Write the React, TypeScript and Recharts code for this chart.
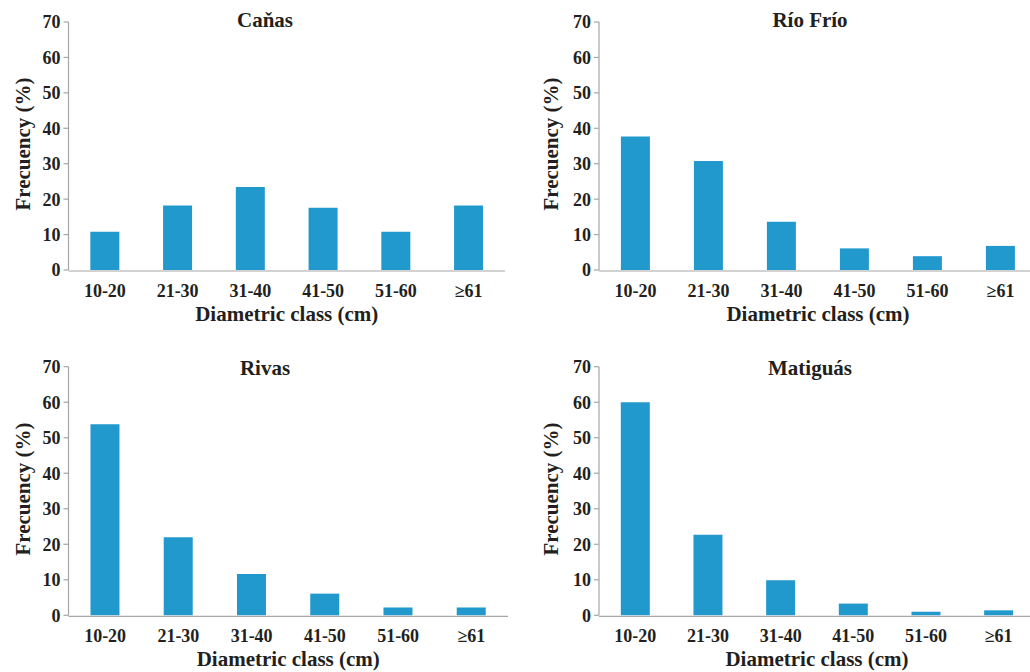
import React from "react";
import { BarChart, Bar, XAxis, YAxis, Label } from "recharts";

const classes = ["10-20", "21-30", "31-40", "41-50", "51-60", "≥61"];
const canas = [10.8, 18.2, 23.4, 17.6, 10.8, 18.2];
const rioFrio = [37.7, 30.8, 13.6, 6.1, 3.9, 6.8];
const rivas = [53.8, 22.0, 11.6, 6.1, 2.2, 2.2];
const matiguas = [60.0, 22.7, 9.9, 3.3, 1.0, 1.4];
const yTicks = [0, 10, 20, 30, 40, 50, 60, 70];
const edgeTicks = [0, 1, 2, 3, 4, 5, 6];

const FONT = "'Liberation Serif', 'Times New Roman', serif";
const INK = "#231F20";
const AXIS = "#A6A6A6";
const BLUE = "#2199CD";

type PanelProps = {
  title: string;
  values: number[];
  left: number;
  top: number;
  width: number;
  height: number;
  yAxisWidth: number;
  marginTop: number;
  marginRight: number;
  marginBottom: number;
  yTitleX: number;
  titleX: number;
  titleY: number;
};

function Panel(p: PanelProps) {
  const data = classes.map((name, i) => ({ name, pos: i, value: p.values[i] }));
  const textStyle = { fontFamily: FONT, fontWeight: "bold" as const, fill: INK };

  return (
    <div style={{ position: "absolute", left: p.left, top: p.top }}>
      <BarChart
        width={p.width}
        height={p.height}
        data={data}
        barCategoryGap="30%"
        margin={{ top: p.marginTop, right: p.marginRight, left: 0, bottom: p.marginBottom - 2 }}
      >
        <XAxis
          xAxisId="edges"
          dataKey="pos"
          type="number"
          domain={[0, 6]}
          ticks={edgeTicks}
          tick={false}
          tickSize={5}
          height={1}
          axisLine={{ stroke: AXIS, strokeWidth: 1.2 }}
          tickLine={{ stroke: AXIS, strokeWidth: 1.2 }}
        />
        <XAxis
          dataKey="name"
          height={1}
          axisLine={false}
          tickLine={false}
          tickSize={5}
          tickMargin={9}
          interval={0}
          tick={{ ...textStyle, fontSize: 18 }}
        >
          <Label
            content={({ viewBox }: any) => (
              <text
                x={viewBox.x + viewBox.width / 2}
                y={viewBox.y + 51}
                textAnchor="middle"
                style={{ ...textStyle, fontSize: 21 }}
                fill={INK}
              >
                Diametric class (cm)
              </text>
            )}
          />
        </XAxis>
        <YAxis
          width={p.yAxisWidth}
          domain={[0, 70]}
          ticks={yTicks}
          interval={0}
          tickSize={5}
          tickMargin={3}
          axisLine={{ stroke: AXIS, strokeWidth: 1.2 }}
          tickLine={{ stroke: AXIS, strokeWidth: 1.2 }}
          tick={{ ...textStyle, fontSize: 18 }}
        >
          <Label
            content={({ viewBox }: any) => {
              const cy = viewBox.y + viewBox.height / 2 - 2;
              return (
                <text
                  x={p.yTitleX}
                  y={cy}
                  transform={`rotate(-90, ${p.yTitleX}, ${cy})`}
                  textAnchor="middle"
                  style={{ ...textStyle, fontSize: 21 }}
                  fill={INK}
                >
                  Frecuency (%)
                </text>
              );
            }}
          />
        </YAxis>
        <Bar dataKey="value" fill={BLUE} isAnimationActive={false} />
        <text
          x={p.titleX}
          y={p.titleY}
          textAnchor="middle"
          style={{ ...textStyle, fontSize: 21 }}
          fill={INK}
        >
          {p.title}
        </text>
      </BarChart>
    </div>
  );
}

export default function App() {
  return (
    <div
      style={{
        position: "absolute",
        left: 0,
        top: 0,
        width: 1030,
        height: 672,
        overflow: "hidden",
        background: "#fff",
      }}
    >
      <Panel
        title="Caňas"
        values={canas}
        left={0}
        top={0}
        width={515}
        height={335}
        yAxisWidth={68.5}
        marginTop={22}
        marginRight={10}
        marginBottom={65}
        yTitleX={30}
        titleX={265}
        titleY={27}
      />
      <Panel
        title="Río Frío"
        values={rioFrio}
        left={515}
        top={0}
        width={525}
        height={335}
        yAxisWidth={84}
        marginTop={22}
        marginRight={3}
        marginBottom={65}
        yTitleX={43}
        titleX={295}
        titleY={27}
      />
      <Panel
        title="Rivas"
        values={rivas}
        left={0}
        top={340}
        width={515}
        height={332}
        yAxisWidth={68.5}
        marginTop={26.7}
        marginRight={7}
        marginBottom={56.7}
        yTitleX={30}
        titleX={265}
        titleY={35}
      />
      <Panel
        title="Matiguás"
        values={matiguas}
        left={515}
        top={340}
        width={525}
        height={332}
        yAxisWidth={84}
        marginTop={26.7}
        marginRight={5}
        marginBottom={56.7}
        yTitleX={43}
        titleX={295}
        titleY={35}
      />
    </div>
  );
}
